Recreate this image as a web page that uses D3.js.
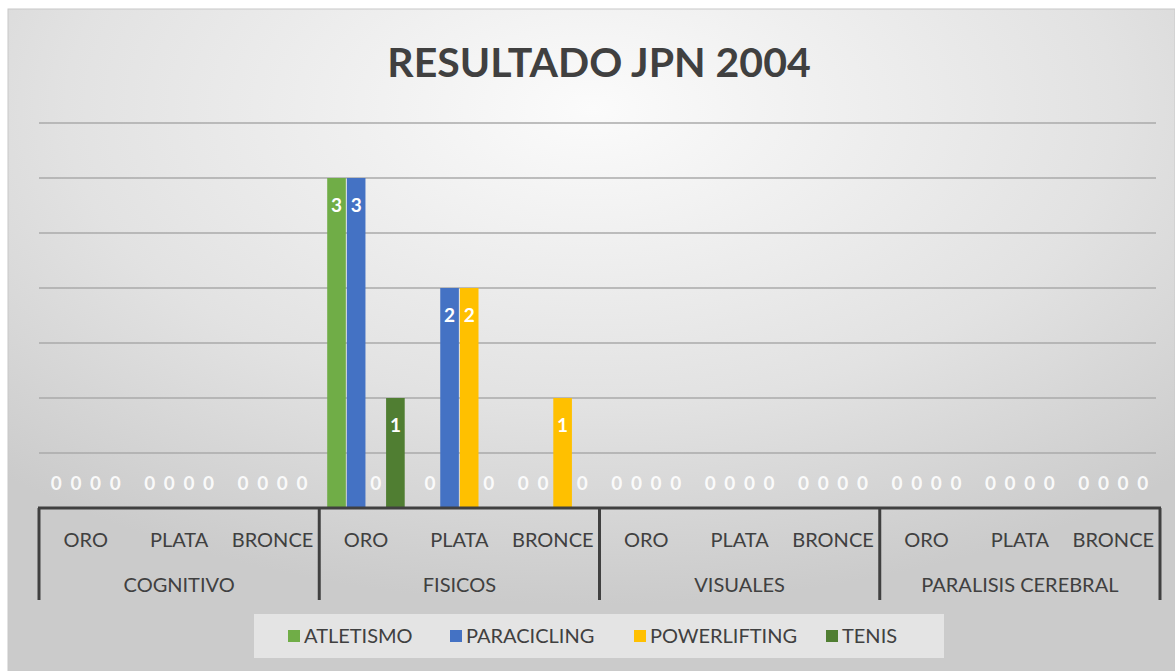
<!DOCTYPE html>
<html>
<head>
<meta charset="utf-8">
<script src="https://cdn.jsdelivr.net/npm/d3@7"></script>
<style>
  body { margin: 0; background: #fff; }
  text { font-family: Lato, "Noto Sans", sans-serif; }
</style>
</head>
<body>
<svg id="chart" width="1175" height="671"></svg>
<script>
const groups = ["COGNITIVO", "FISICOS", "VISUALES", "PARALISIS CEREBRAL"];
const medals = ["ORO", "PLATA", "BRONCE"];
const seriesNames = ["ATLETISMO", "PARACICLING", "POWERLIFTING", "TENIS"];
const seriesColors = ["#70ad47", "#4472c4", "#ffc000", "#507e32"];

// values per series, in order group x medal
const atletismo = [0, 0, 0, 3, 0, 0, 0, 0, 0, 0, 0, 0];
const paracicling = [0, 0, 0, 3, 2, 0, 0, 0, 0, 0, 0, 0];
const powerlifting = [0, 0, 0, 0, 2, 1, 0, 0, 0, 0, 0, 0];
const tenis = [0, 0, 0, 1, 0, 0, 0, 0, 0, 0, 0, 0];
const yTicks = [0, 0.5, 1, 1.5, 2, 2.5, 3, 3.5];

const seriesValues = [atletismo, paracicling, powerlifting, tenis];

const width = 1175, height = 671;
const svg = d3.select("#chart");

// background gradient of the chart area
const defs = svg.append("defs");
const grad = defs.append("radialGradient")
  .attr("id", "bg")
  .attr("cx", "50%").attr("cy", "15%").attr("r", "75%");
grad.append("stop").attr("offset", "0%").attr("stop-color", "#fbfbfb");
grad.append("stop").attr("offset", "60%").attr("stop-color", "#e2e2e2");
grad.append("stop").attr("offset", "100%").attr("stop-color", "#cbcbcb");

svg.append("rect")
  .attr("x", 8).attr("y", 9)
  .attr("width", width - 8).attr("height", height - 9)
  .attr("fill", "url(#bg)")
  .attr("stroke", "#c8c8c8");

// title
svg.append("text")
  .attr("x", 599).attr("y", 77)
  .attr("text-anchor", "middle")
  .attr("font-size", 41)
  .attr("font-weight", "bold")
  .attr("fill", "#404040")
  .text("RESULTADO JPN 2004");

const plotLeft = 39, plotRight = 1160;
const baseY = 508;

const categories = [];
groups.forEach((g) => medals.forEach((m) => categories.push(g + "|" + m)));

const x = d3.scaleBand()
  .domain(categories)
  .range([plotLeft, plotRight]);

const xInner = d3.scaleBand()
  .domain(seriesNames)
  .range([0, x.bandwidth()])
  .paddingOuter(0.38);

const y = d3.scaleLinear()
  .domain([0, 3.5])
  .range([baseY, 123]);

// gridlines
svg.append("g")
  .selectAll("line")
  .data(yTicks.slice(1))
  .enter()
  .append("line")
  .attr("x1", plotLeft)
  .attr("x2", 1156)
  .attr("y1", (d) => y(d))
  .attr("y2", (d) => y(d))
  .attr("stroke", "#aaaaaa")
  .attr("stroke-width", 1.5);

// bars
const rows = [];
seriesValues.forEach((vals, s) => {
  vals.forEach((v, i) => {
    rows.push({ series: seriesNames[s], color: seriesColors[s], cat: categories[i], value: v });
  });
});

svg.append("g")
  .selectAll("rect")
  .data(rows.filter((d) => d.value > 0))
  .enter()
  .append("rect")
  .attr("x", (d) => x(d.cat) + xInner(d.series) + 0.5)
  .attr("width", xInner.bandwidth() - 1)
  .attr("y", (d) => y(d.value))
  .attr("height", (d) => baseY - y(d.value))
  .attr("fill", (d) => d.color);

// data labels
svg.append("g")
  .selectAll("text")
  .data(rows)
  .enter()
  .append("text")
  .attr("x", (d) => x(d.cat) + xInner(d.series) + xInner.bandwidth() / 2)
  .attr("y", (d) => (d.value > 0 ? y(d.value) + 34 : baseY - 18))
  .attr("text-anchor", "middle")
  .attr("font-size", 19)
  .attr("font-weight", "bold")
  .attr("fill", "#ffffff")
  .attr("fill-opacity", (d) => (d.value > 0 ? 1 : 0.9))
  .text((d) => d.value);

// category axis
const axis = svg.append("g").attr("stroke", "#404040");
axis.append("line")
  .attr("x1", plotLeft - 1).attr("x2", plotRight + 1)
  .attr("y1", baseY).attr("y2", baseY)
  .attr("stroke-width", 3);

const groupEdges = groups.map((g) => x(g + "|" + medals[0])).concat([plotRight]);
axis.selectAll(".sep")
  .data(groupEdges)
  .enter()
  .append("line")
  .attr("x1", (d) => d).attr("x2", (d) => d)
  .attr("y1", baseY).attr("y2", 600)
  .attr("stroke-width", 3);

svg.append("g")
  .selectAll("text")
  .data(categories)
  .enter()
  .append("text")
  .attr("x", (d) => x(d) + x.bandwidth() / 2)
  .attr("y", 547)
  .attr("text-anchor", "middle")
  .attr("font-size", 20)
  .attr("fill", "#404040")
  .text((d) => d.split("|")[1]);

svg.append("g")
  .selectAll("text")
  .data(groups)
  .enter()
  .append("text")
  .attr("x", (d) => x(d + "|" + medals[1]) + x.bandwidth() / 2)
  .attr("y", 592)
  .attr("text-anchor", "middle")
  .attr("font-size", 20)
  .attr("fill", "#404040")
  .text((d) => d);

// legend
svg.append("rect")
  .attr("x", 254).attr("y", 614)
  .attr("width", 690).attr("height", 44)
  .attr("fill", "#ececec")
  .attr("fill-opacity", 0.75);

const legendX = [288, 450, 634, 826];
const legend = svg.append("g")
  .selectAll("g")
  .data(seriesNames)
  .enter()
  .append("g")
  .attr("transform", (d, i) => `translate(${legendX[i]},636)`);

legend.append("rect")
  .attr("x", 0).attr("y", -6)
  .attr("width", 12).attr("height", 12)
  .attr("fill", (d, i) => seriesColors[i]);

legend.append("text")
  .attr("x", 16).attr("y", 7)
  .attr("font-size", 20)
  .attr("fill", "#404040")
  .text((d) => d);
</script>
</body>
</html>
